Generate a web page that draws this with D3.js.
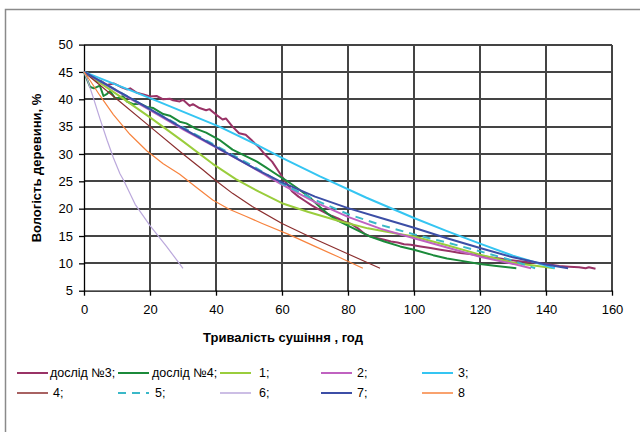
<!DOCTYPE html>
<html>
<head>
<meta charset="utf-8">
<script src="https://cdn.jsdelivr.net/npm/d3@7"></script>
<style>
  body { margin: 0; background: #fff; }
  svg text { font-family: "Liberation Sans", Arial, sans-serif; }
</style>
</head>
<body>
<div class="chart"></div>
<script>
// --- data: [hours, moisture %] ---
var seriesNames = ["дослід №3;", "дослід №4;", "1;", "2;", "3;", "4;", "5;", "6;", "7;", "8"];

var exp3 = [[0,45],[2,44.3],[4,43.2],[5,43.4],[7,42.6],[9,42.9],[11,42.3],[13,41.8],[14,42.0],[16,41.2],[18,40.9],[20,40.5],
  [22,40.6],[24,40.0],[26,40.1],[27,39.8],[29,39.6],[30,39.9],[32,38.8],[33,39.1],[35,38.4],[37,38.0],[38,38.2],[40,37.2],
  [42,36.3],[43,36.5],[45,35.0],[47,33.8],[49,33.5],[51,32.4],[53,31.2],[55,29.8],[57,28.6],[59,26.8],[61,25.0],[63,23.2],
  [65,22.2],[67,21.4],[69,20.6],[71,19.9],[73,19.3],[75,18.7],[77,18.2],[79,17.6],[81,17.2],[83,16.4],[85,15.4],[87,14.9],
  [89,14.6],[91,14.3],[93,14.0],[95,13.8],[97,13.5],[99,13.4],[102,13.1],[105,12.8],[108,12.5],[111,12.2],[114,11.9],
  [117,11.7],[120,11.4],[123,11.1],[126,10.9],[129,10.6],[132,10.4],[135,10.2],[138,10.0],[141,9.8],[144,9.5],[147,9.4],
  [150,9.3],[152,9.1],[153,9.3],[155,9.0]];
var exp4 = [[0,45],[1,43.5],[1.8,42.3],[3,42.0],[4.8,42.5],[5.9,40.6],[7,41.0],[7.9,41.5],[9.4,40.2],[10.5,40.3],[11.9,40.6],
  [13,39.6],[14.9,39.1],[17,39.2],[19,38.6],[21,38.4],[24,37.3],[26,37.0],[29,35.9],[31,35.6],[34,34.6],[37,33.9],[41,32.6],
  [45,30.8],[49,29.6],[52.4,28.6],[55,27.6],[58.5,26.2],[62.4,24.7],[65,23.6],[68.5,22.0],[71.5,20.3],[74,19.0],[76.6,17.9],
  [80.6,16.7],[86.7,14.9],[91,14.0],[95.8,13.1],[100,12.5],[105.8,11.5],[110,10.9],[114,10.5],[120,9.9],[125,9.5],[131,9.1]];
var calc1 = [[0,45],[10,40.9],[20,36.7],[30,32.3],[39,28.2],[46,25.4],[53,23.1],[60,21.0],[68,19.4],[77,17.8],[86,16.4],
  [95,15.4],[100,14.9],[110,13.3],[120,11.6],[130,10.1],[142.5,9.1]];
var calc2 = [[0,45],[10,41.5],[20,38.0],[30,34.5],[40,31.2],[50,27.9],[60,24.4],[70,21.2],[80,18.5],[90,16.3],[100,14.6],
  [110,12.9],[120,11.2],[130,9.9],[135.5,9.1]];
var calc3 = [[0,45],[20,40.2],[41,35.0],[53,31.5],[60,29.3],[71.5,25.9],[85.6,22.0],[100,18.3],[110,15.9],[120,13.6],
  [130,11.4],[142.7,9.1]];
var calc4 = [[0,45],[10,40.0],[20,35.0],[30,30.0],[36,27.1],[40,25.1],[45,22.8],[51,20.4],[60,17.3],[69.4,14.6],[79.7,11.8],[89.7,9.1]];
var calc5 = [[0,45],[20,38.2],[40,31.5],[50,28.2],[60,24.6],[70,21.6],[80,19.0],[90,17.0],[100,15.3],[110,13.8],[120,12.2],
  [130,10.5],[136.7,9.1]];
var calc6 = [[0,45],[1,43.6],[2.7,40.5],[4.8,36.5],[7,32.5],[8.9,29.3],[10.9,26.4],[12,25.2],[15.5,20.8],[20,16.9],[25,13.1],[30,9.1]];
var calc7 = [[0,45],[10,41.6],[20,38.2],[30,34.7],[40,31.3],[50,27.9],[60,24.8],[70,22.2],[80,20.1],[90,18.3],[100,16.5],
  [110,14.6],[120,12.8],[130,11.1],[140,9.8],[146.7,9.1]];
var calc8 = [[0,45],[2,43.3],[4.8,40.7],[8.9,37.2],[13.9,33.6],[19,30.6],[24,28.2],[29,26.3],[34,23.9],[39,21.6],[44,19.9],
  [49,18.6],[54,17.3],[62,15.3],[70,13.1],[77,11.2],[84.5,9.1]];

var xTicks = [0, 20, 40, 60, 80, 100, 120, 140, 160];
var yTicks = [5, 10, 15, 20, 25, 30, 35, 40, 45, 50];

var allSeries = [exp3, exp4, calc1, calc2, calc3, calc4, calc5, calc6, calc7, calc8];
var colors = ["#993366", "#1b8a3a", "#9acd3c", "#c062c0", "#35c5f2", "#8b2e2e", "#3ab8c8", "#bba8dc", "#3c4ea6", "#f7833e"];
var widths = [2, 2, 2, 2, 2, 1.2, 2, 1.2, 2, 1.2];

var svg = d3.select(".chart").append("svg")
    .attr("width", 640)
    .attr("height", 432);

// outer frame (only left/top visible)
svg.append("path")
    .attr("d", "M5.5,440V9.5H650")
    .attr("fill", "none")
    .attr("stroke", "#8a8a8a")
    .attr("stroke-width", 1.5);

var xScale = d3.scaleLinear().domain([0, 160]).range([84, 612]);
var yScale = d3.scaleLinear().domain([5, 50]).range([290.7, 44.6]);

// grid, drawn first so the curves sit on top
var grid = svg.append("g").attr("shape-rendering", "crispEdges");
grid.selectAll("line.hg")
    .data(yTicks.slice(1))
    .enter()
    .append("line")
    .attr("class", "hg")
    .attr("x1", xScale(0)).attr("x2", xScale(160))
    .attr("y1", d => Math.round(yScale(d))).attr("y2", d => Math.round(yScale(d)))
    .attr("stroke", "#444444")
    .attr("stroke-width", 2);
grid.selectAll("line.vg")
    .data(xTicks.slice(1))
    .enter()
    .append("line")
    .attr("class", "vg")
    .attr("x1", d => Math.round(xScale(d))).attr("x2", d => Math.round(xScale(d)))
    .attr("y1", yScale(5)).attr("y2", yScale(50))
    .attr("stroke", "#444444")
    .attr("stroke-width", 2);

// axes
var gx = svg.append("g")
    .attr("transform", `translate(0,${yScale(5)})`)
    .call(d3.axisBottom(xScale).tickValues(xTicks).tickSize(5).tickSizeOuter(0).tickPadding(9));
var gy = svg.append("g")
    .attr("transform", `translate(${xScale(0)},0)`)
    .call(d3.axisLeft(yScale).tickValues(yTicks).tickSize(5).tickSizeOuter(0).tickPadding(6));
[gx, gy].forEach(function (g) {
    g.select(".domain").attr("stroke", "#000").attr("stroke-width", 1.3);
    g.selectAll(".tick line").attr("stroke", "#000").attr("stroke-width", 1.3);
    g.selectAll("text").attr("font-size", "13px").attr("fill", "#000")
        .style("font-family", "'Liberation Sans', Arial, sans-serif");
});

// series lines
var line = d3.line()
    .x(d => xScale(d[0]))
    .y(d => yScale(d[1]));

svg.append("g").selectAll("path")
    .data(allSeries)
    .enter()
    .append("path")
    .attr("d", line)
    .attr("fill", "none")
    .attr("stroke", (d, i) => colors[i])
    .attr("stroke-width", (d, i) => widths[i])
    .attr("stroke-dasharray", (d, i) => i == 6 ? "8,6" : null)
    .attr("stroke-linejoin", "round");

// axis titles
svg.append("text")
    .attr("x", 283).attr("y", 342)
    .attr("text-anchor", "middle")
    .attr("font-size", "13px")
    .attr("font-weight", "bold")
    .text("Тривалість сушіння , год");

svg.append("text")
    .attr("transform", "translate(41,168) rotate(-90)")
    .attr("text-anchor", "middle")
    .attr("font-size", "13px")
    .attr("font-weight", "bold")
    .text("Вологість деревини, %");

// legend
var legendCols = [17, 118, 220, 321, 422];
var legendRows = [373, 393];
var textGap = [2, 3, 8, 5, 5, 5, 6, 8, 5, 5];
var legend = svg.append("g").selectAll("g")
    .data(seriesNames)
    .enter()
    .append("g")
    .attr("transform", (d, i) => `translate(${legendCols[i % 5]},${legendRows[Math.floor(i / 5)]})`);
legend.append("line")
    .attr("x1", 0).attr("x2", 31)
    .attr("y1", 0).attr("y2", 0)
    .attr("stroke", (d, i) => colors[i])
    .attr("stroke-width", (d, i) => widths[i] < 2 ? 1.5 : 2)
    .attr("stroke-dasharray", (d, i) => i == 6 ? "8,6" : null);
legend.append("text")
    .attr("x", (d, i) => 31 + textGap[i])
    .attr("y", 0)
    .attr("dy", "0.35em")
    .attr("font-size", "12.5px")
    .text(d => d);
</script>
</body>
</html>
